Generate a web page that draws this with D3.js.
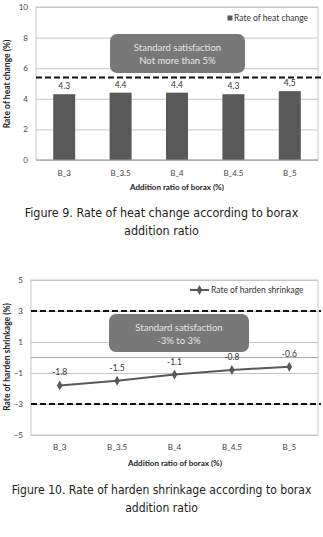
<!DOCTYPE html>
<html>
<head>
<meta charset="utf-8">
<script src="https://cdn.jsdelivr.net/npm/d3@7"></script>
<style>
  body { margin: 0; background: #fff; }
  svg { display: block; }
  .tick text { fill: #444; }
</style>
</head>
<body>
<div id="chart"></div>
<script>
// data
const categories = ["B_3", "B_3.5", "B_4", "B_4.5", "B_5"];
const heatChange = [4.3, 4.4, 4.4, 4.3, 4.5];
const hardenShrinkage = [-1.8, -1.5, -1.1, -0.8, -0.6];
const heatTicks = [0, 2, 4, 6, 8, 10];
const shrinkTicks = [-5, -3, -1, 1, 3, 5];
const heatLimit = [5.4];
const shrinkLimits = [3, -3];

const chartFont = "Lato, 'Open Sans', sans-serif";
const captionFont = "'DejaVu Sans Condensed', 'Liberation Sans Narrow', sans-serif";

const svg = d3.select("#chart").append("svg")
    .attr("width", 323)
    .attr("height", 537)
    .style("font-family", chartFont);

function drawFrame(g, x0, x1, y, ticks) {
  // plot area border
  g.append("rect")
    .attr("x", x0).attr("y", y.range()[1])
    .attr("width", x1 - x0).attr("height", y.range()[0] - y.range()[1])
    .attr("fill", "none").attr("stroke", "#c8c8c8").attr("stroke-width", 1);

  // grid lines
  g.append("g")
    .attr("transform", "translate(" + x0 + ",0)")
    .call(d3.axisLeft(y).tickValues(ticks).tickSize(-(x1 - x0)).tickFormat(""))
    .call(s => s.select(".domain").remove())
    .call(s => s.selectAll("line").attr("stroke", "#c4c4c4"));

  // tick labels
  g.append("g")
    .attr("transform", "translate(" + x0 + ",0)")
    .call(d3.axisLeft(y).tickValues(ticks).tickSize(0).tickPadding(8))
    .call(s => s.select(".domain").remove())
    .call(s => s.selectAll("text").attr("font-size", 8).attr("font-family", chartFont));
}

function drawNote(g, x, y, w, h, lines) {
  g.append("rect")
    .attr("x", x).attr("y", y).attr("width", w).attr("height", h)
    .attr("rx", 7).attr("fill", "#787878");
  lines.forEach((t, i) => {
    g.append("text")
      .attr("x", x + w / 2).attr("y", y + 17 + i * 13)
      .attr("text-anchor", "middle")
      .attr("font-size", 9.5).attr("fill", "#e6e6e6")
      .text(t);
  });
}

function drawCaption(lines, yTop, width) {
  // pick a font size so the first line is about as wide as in the figure
  const probe = svg.append("text")
    .attr("font-family", captionFont).attr("font-size", 13).text(lines[0]);
  const w = probe.node().getComputedTextLength();
  probe.remove();
  const size = Math.min(14, 13 * width / w);
  lines.forEach((t, i) => {
    svg.append("text")
      .attr("x", 161.5).attr("y", yTop + i * 18)
      .attr("text-anchor", "middle")
      .attr("font-family", captionFont)
      .attr("font-size", size).attr("fill", "#222")
      .text(t);
  });
}

// ---------- Figure 9: bar chart ----------
{
  const g = svg.append("g");
  const x0 = 36, x1 = 318;
  const x = d3.scaleBand().domain(categories).range([x0, x1]).paddingInner(0.61).paddingOuter(0.305);
  const y = d3.scaleLinear().domain([0, 10]).range([160, 7]);

  drawFrame(g, x0, x1, y, heatTicks);

  g.selectAll(".bar").data(heatChange).enter().append("rect")
    .attr("class", "bar")
    .attr("x", (d, i) => x(categories[i]))
    .attr("y", d => y(d))
    .attr("width", x.bandwidth())
    .attr("height", d => y(0) - y(d))
    .attr("fill", "#595959");

  // baseline
  g.append("line").attr("x1", x0).attr("x2", x1).attr("y1", y(0)).attr("y2", y(0))
    .attr("stroke", "#a0a0a0");

  g.selectAll(".lbl").data(heatChange).enter().append("text")
    .attr("x", (d, i) => x(categories[i]) + x.bandwidth() / 2)
    .attr("y", d => y(d) - 5)
    .attr("text-anchor", "middle").attr("font-size", 8.5).attr("fill", "#333")
    .text(d => d.toFixed(1));

  g.selectAll(".limit").data(heatLimit).enter().append("line")
    .attr("x1", x0).attr("x2", x1 + 3).attr("y1", d => y(d)).attr("y2", d => y(d))
    .attr("stroke", "#111").attr("stroke-width", 2).attr("stroke-dasharray", "6,3");

  drawNote(g, 110, 34, 135, 39, ["Standard satisfaction", "Not more than 5%"]);

  // legend
  g.append("rect").attr("x", 227.5).attr("y", 15.5).attr("width", 5).attr("height", 5).attr("fill", "#595959");
  g.append("text").attr("x", 234).attr("y", 21).attr("font-size", 8.5).attr("fill", "#333").text("Rate of heat change");

  g.selectAll(".xl").data(categories).enter().append("text")
    .attr("x", d => x(d) + x.bandwidth() / 2).attr("y", 176)
    .attr("text-anchor", "middle").attr("font-size", 8).attr("fill", "#444")
    .text(d => d);

  g.append("text").attr("x", 177).attr("y", 190).attr("text-anchor", "middle")
    .attr("font-size", 8).attr("font-weight", "bold").attr("fill", "#222")
    .text("Addition ratio of borax (%)");

  g.append("text").attr("transform", "translate(10,84) rotate(-90)").attr("text-anchor", "middle")
    .attr("font-size", 8.5).attr("font-weight", "bold").attr("fill", "#222")
    .text("Rate of heat change (%)");

  drawCaption(["Figure 9. Rate of heat change according to borax", "addition ratio"], 217, 274);
}

// ---------- Figure 10: line chart ----------
{
  const g = svg.append("g");
  const x0 = 31, x1 = 318;
  const x = d3.scalePoint().domain(categories).range([x0, x1]).padding(0.5);
  const y = d3.scaleLinear().domain([-5, 5]).range([435, 280]);

  drawFrame(g, x0, x1, y, shrinkTicks);

  // horizontal axis crossing at 0
  g.append("line").attr("x1", x0).attr("x2", x1).attr("y1", y(0)).attr("y2", y(0))
    .attr("stroke", "#a8a8a8");

  g.selectAll(".limit").data(shrinkLimits).enter().append("line")
    .attr("x1", x0).attr("x2", x1 + 3).attr("y1", d => y(d)).attr("y2", d => y(d))
    .attr("stroke", "#111").attr("stroke-width", 2).attr("stroke-dasharray", "6,3");

  const line = d3.line().x((d, i) => x(categories[i])).y(d => y(d));
  g.append("path").datum(hardenShrinkage)
    .attr("d", line).attr("fill", "none").attr("stroke", "#595959").attr("stroke-width", 2);

  const diamond = d3.symbol().type(d3.symbolDiamond).size(28);
  g.selectAll(".pt").data(hardenShrinkage).enter().append("path")
    .attr("transform", (d, i) => "translate(" + x(categories[i]) + "," + y(d) + ")")
    .attr("d", diamond).attr("fill", "#595959");

  g.selectAll(".lbl").data(hardenShrinkage).enter().append("text")
    .attr("x", (d, i) => x(categories[i]))
    .attr("y", d => y(d) - 10)
    .attr("text-anchor", "middle").attr("font-size", 8.5).attr("fill", "#333")
    .text(d => d.toFixed(1));

  drawNote(g, 109, 314, 140, 38, ["Standard satisfaction", "-3% to 3%"]);

  // legend
  g.append("line").attr("x1", 190).attr("x2", 209).attr("y1", 290).attr("y2", 290)
    .attr("stroke", "#595959").attr("stroke-width", 2);
  g.append("path").attr("transform", "translate(199.5,290)").attr("d", diamond).attr("fill", "#595959");
  g.append("text").attr("x", 211).attr("y", 293).attr("font-size", 8.5).attr("fill", "#333")
    .text("Rate of harden shrinkage");

  g.selectAll(".xl").data(categories).enter().append("text")
    .attr("x", d => x(d)).attr("y", 450)
    .attr("text-anchor", "middle").attr("font-size", 8).attr("fill", "#444")
    .text(d => d);

  g.append("text").attr("x", 175).attr("y", 466).attr("text-anchor", "middle")
    .attr("font-size", 8).attr("font-weight", "bold").attr("fill", "#222")
    .text("Addition ratio of borax (%)");

  g.append("text").attr("transform", "translate(10,357) rotate(-90)").attr("text-anchor", "middle")
    .attr("font-size", 8.5).attr("font-weight", "bold").attr("fill", "#222")
    .text("Rate of harden shrinkage  (%)");

  drawCaption(["Figure 10. Rate of harden shrinkage according to borax", "addition ratio"], 494, 300);
}
</script>
</body>
</html>
